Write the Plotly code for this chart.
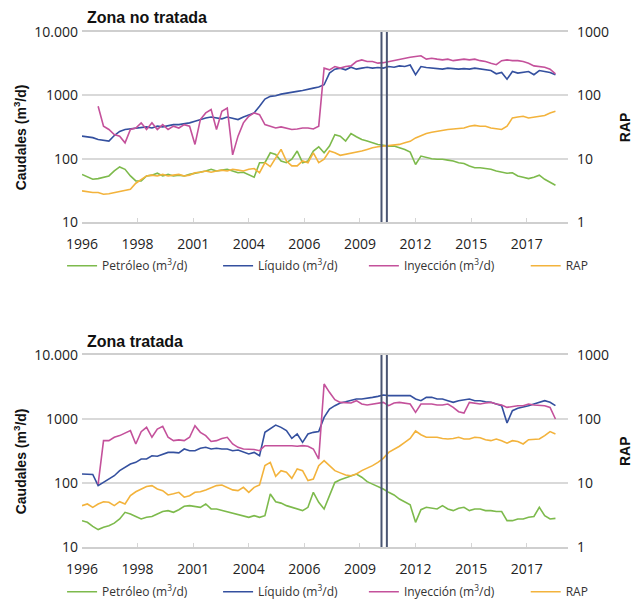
import plotly.graph_objects as go

# meses desde ene-1996 (muestreo trimestral)
meses = list(range(0, 267, 3))

# etiquetas del eje x (eje de categorías en el original)
ticks_x = [0, 31, 62, 93, 124, 155, 186, 217, 248]
anios = ["1996", "1998", "2001", "2004", "2006", "2009", "2012", "2015", "2017"]

# fecha del tratamiento (doble línea vertical)
tratamiento = [167, 170]

# Zona no tratada
nt_petroleo = [56.5, 51, 47.3, 48.5, 51, 53.4, 64, 74, 68, 53.4,
               44.5, 44.5, 53.4, 55, 59, 53.4, 56.5, 53.4, 55, 53.4,
               56.5, 59, 60, 64, 68, 64, 66, 68, 64, 60,
               61, 56.5, 51, 86.5, 86.5, 124, 117, 92, 86.5, 98,
               132, 86.5, 92, 132, 154, 124, 158, 240, 227, 190,
               250, 222, 201, 190, 178, 168, 163, 158, 158, 149,
               140, 127, 81, 110, 104, 100, 98, 98, 95, 92,
               86.5, 84, 76.7, 72, 72, 70, 68, 64, 61, 59,
               60, 53.4, 51, 48.5, 51, 55, 47.3, 43, 38]
nt_liquido = [227, 222, 215, 201, 195, 190, 232, 270, 289, 295,
              305, 305, 318, 305, 326, 318, 335, 345, 345, 356,
              368, 390, 415, 440, 455, 440, 425, 455, 440, 415,
              455, 495, 528, 672, 875, 964, 985, 1045, 1088, 1120,
              1155, 1190, 1227, 1300, 1350, 1470, 2245, 2590, 2690, 2530,
              2780, 2590, 2690, 2780, 2690, 2750, 2690, 2850, 2780, 2920,
              2850, 3010, 2115, 2850, 2750, 2690, 2690, 2590, 2690, 2620,
              2590, 2640, 2590, 2690, 2590, 2530, 2460, 2190, 2300, 1800,
              2380, 2245, 2300, 2380, 2115, 2460, 2380, 2300, 2115]
nt_inyeccion = [None, None, None, 672, 326, 289, 240, 227, 178, 289,
                305, 368, 289, 368, 289, 345, 289, 326, 305, 345,
                326, 168, 415, 528, 596, 289, 560, 630, 115, 227,
                368, 468, 528, 495, 345, 326, 305, 318, 305, 289,
                295, 305, 305, 295, 326, 2690, 2530, 2850, 2690, 2850,
                2920, 3420, 3630, 3420, 3420, 3220, 3280, 3420, 3530, 3730,
                3860, 4000, 4100, 4220, 3730, 3860, 3730, 3630, 3730, 3530,
                3630, 3730, 3630, 3730, 3530, 3420, 3220, 3050, 3530, 3630,
                3530, 3530, 3420, 3220, 2920, 2850, 2780, 2590, 2190]
nt_rap = [3.1, 3.0, 2.92, 2.92, 2.75, 2.8, 2.92, 3.0, 3.1, 3.3,
          4.1, 4.73, 5.34, 5.5, 5.34, 5.65, 5.34, 5.5, 5.65, 5.34,
          5.5, 6.0, 6.1, 6.4, 6.1, 6.4, 6.6, 6.4, 6.8, 6.6,
          6.4, 6.8, 7.0, 6.0, 8.65, 7.5, 10.4, 14, 9.2, 7.7,
          7.7, 9.2, 8.65, 12.4, 8.65, 9.8, 13.2, 12.4, 11.3, 11.7,
          12.1, 12.4, 13.2, 14, 14.9, 15.4, 15.8, 16.2, 16.8, 16.8,
          17.8, 18.8, 21.3, 23.2, 25, 26.2, 27.3, 28, 28.9, 29.5,
          29.8, 30.5, 32.6, 33.5, 32.6, 32.6, 30.5, 29.5, 28.9, 32.6,
          44, 45.5, 46.8, 44, 45.5, 46.8, 48, 52.8, 56]

# Zona tratada
t_petroleo = [25.8, 24.3, 21, 18.7, 20.3, 21.5, 23.6, 27.4, 34.8, 32.8,
              30, 27.4, 29.1, 30, 32.8, 35.8, 37, 34.8, 38.3, 43.2,
              44.3, 43.2, 41.7, 47, 39.3, 39.3, 37.5, 35.8, 34, 32.8,
              30.9, 29.1, 30.9, 29.1, 30.9, 67.5, 51, 48.5, 44.3, 41.7,
              39.3, 37, 41.7, 71.5, 49.9, 39.3, 63.4, 102, 112, 119,
              127, 138, 123, 105, 96, 88.5, 80.5, 71.5, 65, 56.2,
              49.9, 45.5, 24.3, 38.3, 41.7, 40.3, 39.3, 44.3, 39.3, 37,
              40.3, 41.7, 37, 39.3, 39.3, 37, 37, 35.8, 35.8, 25.8,
              25.8, 27.4, 27.4, 29.1, 30, 41.7, 30.9, 27.4, 28]
t_liquido = [138, 138, 136, 91, 102, 115, 130, 156, 176, 198,
             210, 237, 237, 267, 262, 284, 301, 301, 296, 340,
             320, 320, 350, 361, 340, 350, 340, 340, 320, 328,
             308, 284, 301, 267, 619, 698, 805, 741, 658, 497,
             583, 432, 583, 619, 635, 1060, 1432, 1615, 1780, 1860,
             1933, 2055, 2055, 2100, 2180, 2260, 2370, 2320, 2320, 2320,
             2370, 2320, 2055, 1933, 2180, 2180, 2055, 2055, 1933, 1820,
             1933, 1980, 2055, 1933, 1933, 1860, 1820, 1714, 1615, 866,
             1350, 1470, 1520, 1615, 1714, 1820, 1933, 1820, 1615]
t_inyeccion = [None, None, None, 96, 459, 459, 518, 550, 605, 658,
               407, 635, 741, 518, 698, 768, 518, 459, 472, 459,
               518, 787, 619, 550, 445, 459, 497, 518, 407, 361,
               340, 340, 333, 320, 383, 383, 383, 390, 383, 383,
               376, 383, 376, 340, 237, 3520, 2610, 2000, 1820, 1780,
               1780, 1933, 1714, 1655, 1714, 1780, 1820, 1615, 1780, 1820,
               1750, 1714, 1271, 1714, 1714, 1714, 1655, 1655, 1714, 1520,
               1300, 1240, 1820, 1780, 1714, 1780, 1820, 1714, 1655, 1520,
               1570, 1615, 1615, 1714, 1655, 1615, 1615, 1520, 1000]
t_rap = [4.43, 4.7, 4.17, 4.7, 5.1, 5.0, 4.43, 5.1, 4.7, 6.34,
         7.3, 8.05, 8.8, 9.1, 8.05, 7.6, 6.5, 6.8, 7.15, 6.0,
         6.34, 7.15, 7.3, 7.8, 8.55, 9.1, 9.3, 8.55, 7.8, 7.6,
         8.55, 7.15, 8.55, 9.3, 18.7, 21, 12.7, 15.6, 14.7, 11.8,
         16.6, 15.6, 10.9, 11.5, 18.7, 22.3, 18.7, 15.6, 14.4, 13.3,
         13, 13.8, 15.6, 17, 18.7, 21, 24.3, 30.1, 33.3, 37.5,
         43.2, 49.7, 65, 56.7, 51.8, 51.8, 51.8, 49.7, 48.7, 49.7,
         51.8, 48.7, 48.7, 51.8, 51, 47.5, 45.9, 48.7, 45.9, 42,
         45.9, 44.5, 40.7, 47.5, 48.7, 48.7, 55, 63.5, 58.3]

nombres = ["Petróleo (m<sup>3</sup>/d)", "Líquido (m<sup>3</sup>/d)",
           "Inyección (m<sup>3</sup>/d)", "RAP"]
colores = ["#7dba4c", "#34509f", "#c4519b", "#f3b33c"]

FONT = "Open Sans"
GRID = "#d9d9d9"

# cada serie lleva su propia leyenda para ubicarla como en el original
leg_x = [-0.041, 0.28, 0.58, 0.913]
zonas = [
    ("x", "y", "y2", 0.546, 1, [nt_petroleo, nt_liquido, nt_inyeccion, nt_rap]),
    ("x2", "y3", "y4", -0.087, 5, [t_petroleo, t_liquido, t_inyeccion, t_rap]),
]

fig = go.Figure()
leyendas = {}
for xa, ya, ya_rap, y_leg, n0, series in zonas:
    for i, datos in enumerate(series):
        n = n0 + i
        nombre_leg = "legend" if n == 1 else "legend%d" % n
        fig.add_trace(go.Scatter(
            x=meses, y=datos, name=nombres[i], mode="lines",
            xaxis=xa, yaxis=ya_rap if i == 3 else ya, legend=nombre_leg,
            line=dict(color=colores[i], width=1.6),
        ))
        leyendas[nombre_leg] = dict(
            orientation="h", x=leg_x[i], xanchor="left", y=y_leg, yanchor="middle",
            itemwidth=30, font=dict(family=FONT, size=12, color="#333"),
            bgcolor="rgba(0,0,0,0)")

eje_x = dict(range=[0, 271], tickvals=ticks_x, ticktext=anios, showgrid=False,
             showline=True, linecolor="#cfcfcf", linewidth=1.5, mirror=True,
             ticks="inside", ticklen=4, tickcolor="#d5d5d5", zeroline=False,
             ticklabelstandoff=8,
             tickfont=dict(family=FONT, size=14, color="#222"))
eje_q = dict(type="log", range=[1, 4], tickvals=[10, 100, 1000, 10000],
             ticktext=["10", "100", "1000", "10.000"], showgrid=True,
             gridcolor=GRID, gridwidth=1.5, showline=False, zeroline=False,
             ticks="", ticklabelstandoff=3,
             tickfont=dict(family=FONT, size=14, color="#222"))
eje_rap = dict(type="log", range=[0, 3], tickvals=[1, 10, 100, 1000],
               ticktext=["1", "10", "100", "1000"], showgrid=False,
               zeroline=False, side="right", ticks="", ticklabelstandoff=8,
               tickfont=dict(family=FONT, size=14, color="#222"))

sup = [0.631, 1.0]
inf = [0.0, 0.3728]

# la página añade 8 px de margen al cuerpo: la figura se achica para caber
fig.update_layout(
    width=635, height=593,
    margin=dict(l=74, r=75, t=24, b=54, autoexpand=False),
    paper_bgcolor="white", plot_bgcolor="white",
    xaxis=dict(eje_x, domain=[0, 1], anchor="y"),
    yaxis=dict(eje_q, domain=sup, anchor="x"),
    yaxis2=dict(eje_rap, overlaying="y", anchor="x"),
    xaxis2=dict(eje_x, domain=[0, 1], anchor="y3"),
    yaxis3=dict(eje_q, domain=inf, anchor="x2"),
    yaxis4=dict(eje_rap, overlaying="y3", anchor="x2"),
    showlegend=True,
    **leyendas,
)

# doble linea vertical del tratamiento
for xref, yref in [("x", "y domain"), ("x2", "y3 domain")]:
    for xv in tratamiento:
        fig.add_shape(type="line", xref=xref, yref=yref, x0=xv, x1=xv, y0=0, y1=1,
                      line=dict(color="#4a5572", width=2))

titulos = [("Zona no tratada", 1.029, 0.815), ("Zona tratada", 0.40, 0.186)]
for texto, y_tit, y_mid in titulos:
    fig.add_annotation(text="<b>" + texto + "</b>", xref="paper", yref="paper",
                       x=0.006, y=y_tit, xanchor="left", yanchor="middle", showarrow=False,
                       font=dict(family="Liberation Sans", size=16, color="#111"))
    fig.add_annotation(text="<b>Caudales (m<sup>3</sup>/d)</b>", xref="paper", yref="paper",
                       x=-0.128, y=y_mid - 0.02, xanchor="center", yanchor="middle",
                       textangle=-90, showarrow=False,
                       font=dict(family="Liberation Sans", size=14, color="#111"))
    fig.add_annotation(text="<b>RAP</b>", xref="paper", yref="paper",
                       x=1.117, y=y_mid, xanchor="center", yanchor="middle",
                       textangle=-90, showarrow=False,
                       font=dict(family="Liberation Sans", size=14, color="#111"))

fig.write_html("out.html")
